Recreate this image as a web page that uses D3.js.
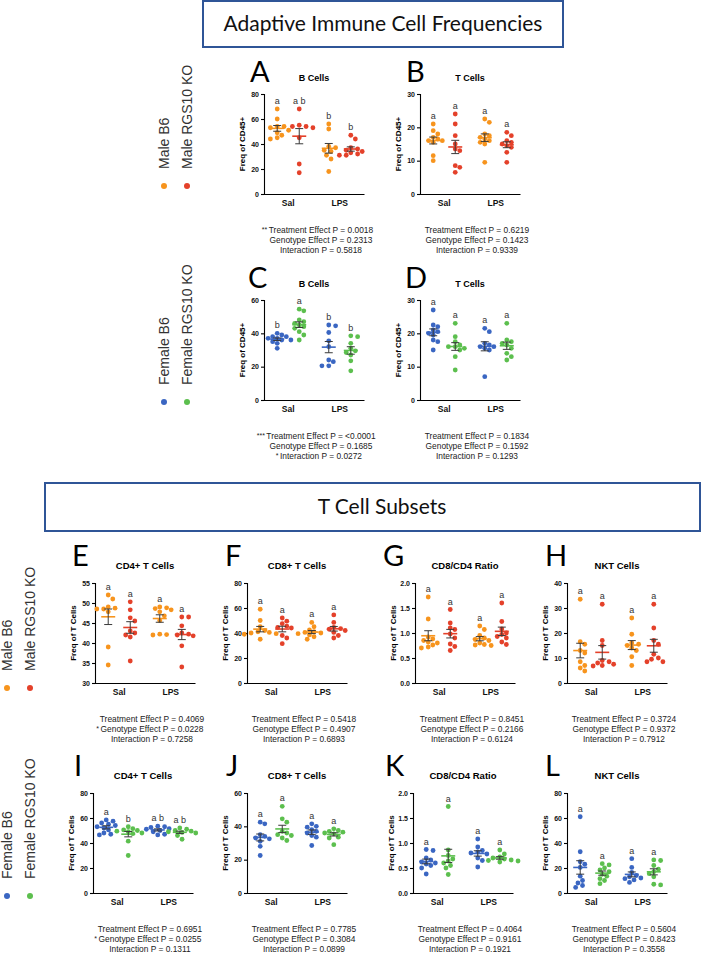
<!DOCTYPE html>
<html>
<head>
<meta charset="utf-8">
<script src="https://cdn.jsdelivr.net/npm/d3@7"></script>
<style>
  body { margin: 0; background: #fff; }
  svg { display: block; }
</style>
</head>
<body>
<svg id="fig" width="702" height="954"></svg>
<script>
// groups within every panel, in drawing order: Sal-B6, Sal-KO, LPS-B6, LPS-KO
const treatments = ["Sal", "LPS"];
const genotypes = ["B6", "KO"];
const maleColors = ["#F7941D", "#E4412A"];
const femaleColors = ["#3A66C2", "#5CBF4E"];
const maleLegend = ["Male B6", "Male RGS10 KO"];
const femaleLegend = ["Female B6", "Female RGS10 KO"];

// ---- values ----
const bCellsMale = [
  [68, 60, 54, 54, 53, 51, 49, 47, 45, 44],
  [68, 55, 54, 54, 53, 45, 24, 17],
  [56, 52, 38, 37, 35, 34, 31, 28, 18],
  [47, 44, 37, 36, 35, 34, 33, 32, 31, 31]
];
const tCellsMale = [
  [21, 19, 18, 17, 16.5, 16, 16, 15.5, 11.5, 10],
  [24, 21, 17.5, 15, 13.5, 13, 8.5, 8, 6.5],
  [22.5, 21.5, 18, 17.5, 17, 16.5, 16, 15.5, 15, 9.5],
  [18.5, 17.5, 16, 15.5, 15, 14.5, 14, 12.5, 9.5]
];
const bCellsFemale = [
  [40, 39, 38, 38, 37, 37, 36, 36, 35, 34, 31],
  [54.5, 53.5, 48, 47, 46, 45, 44, 43, 41, 39, 36],
  [45, 44.5, 40.5, 35.5, 32, 24, 23, 20.5, 20.5],
  [38.5, 38, 34, 31, 29.5, 28.5, 27, 23.5, 17.5]
];
const tCellsFemale = [
  [27, 22.5, 22, 21, 20.5, 20, 19.5, 18, 17.5, 15],
  [23, 19, 17.5, 16.5, 16, 16, 15.5, 15, 13, 9],
  [21.5, 20.5, 17, 16.5, 16, 16, 15.5, 15, 7],
  [23, 18, 17.5, 17, 16.5, 15.5, 14, 13, 12]
];
const cd4Male = [
  [52, 51, 49, 48.7, 48.5, 48.5, 47.8, 39, 34.5],
  [50.3, 48.3, 46.3, 45.5, 43, 42.5, 42, 41.5, 35.5],
  [49, 48.8, 48.6, 48.3, 47.8, 46.8, 45.6, 42.2, 42.1, 42],
  [46.5, 46.5, 44.3, 42.5, 42.2, 42, 41.8, 39.3, 34]
];
const cd8Male = [
  [59, 50, 45, 42, 41, 40.5, 40, 39.5, 39, 35],
  [52, 49.5, 47.5, 45.5, 44.5, 44, 38, 36, 31.5],
  [48.5, 45, 42.5, 41, 40.5, 40, 39.5, 38.5, 37, 35],
  [54.5, 48.5, 44.5, 43.5, 43, 42, 40.5, 38, 36]
];
const ratioMale = [
  [1.72, 1.28, 0.92, 0.88, 0.85, 0.82, 0.8, 0.76, 0.72, 0.7],
  [1.47, 1.2, 1.1, 1.07, 0.98, 0.9, 0.78, 0.73, 0.65],
  [1.14, 1.07, 0.95, 0.9, 0.87, 0.85, 0.8, 0.77, 0.76, 0.75],
  [1.6, 1.23, 1.08, 1.0, 0.97, 0.93, 0.9, 0.82, 0.77]
];
const nktMale = [
  [33.5, 16.5, 15.5, 13, 12, 8.5, 7, 6, 4.8],
  [31.5, 17, 15, 9, 8.5, 8, 7.5, 7, 6.8],
  [26, 19.5, 16, 15.5, 15, 14, 13, 10.5, 7],
  [31.5, 22, 17, 15.5, 11.5, 10, 9.5, 8.5, 8.5]
];
const cd4Female = [
  [58.5, 57.5, 56, 55, 54, 53, 52, 50.5, 48, 47, 46.5],
  [53, 51.5, 50.5, 50, 49.5, 49, 48, 47.5, 41.5, 30],
  [53.5, 53, 52.5, 51.5, 51, 50, 49, 47, 46.5],
  [52, 51, 50, 49.5, 49, 48.5, 48, 46, 43]
];
const cd8Female = [
  [42.5, 41.5, 35, 34, 33, 32.5, 31, 28, 22.5],
  [52, 44.5, 42.5, 37, 36, 35, 34.5, 33, 31.5],
  [41.5, 40, 39.5, 38, 37, 36, 34.5, 33.5, 28.5],
  [38.5, 37.5, 37, 36.5, 36, 35.5, 33.5, 33, 29]
];
const ratioFemale = [
  [0.87, 0.85, 0.7, 0.66, 0.62, 0.6, 0.58, 0.55, 0.5, 0.38],
  [1.73, 0.86, 0.75, 0.68, 0.64, 0.6, 0.55, 0.5, 0.37],
  [1.08, 0.92, 0.85, 0.82, 0.8, 0.78, 0.7, 0.65, 0.52],
  [0.86, 0.78, 0.72, 0.7, 0.68, 0.66, 0.65, 0.64, 0.62]
];
const nktFemale = [
  [61, 33, 25, 23, 20.5, 13.5, 10, 8, 6, 4.5],
  [23.5, 22.5, 20, 18.5, 17, 15, 13.5, 11.5, 10, 7.5],
  [27.5, 20.5, 16.5, 14, 13, 12, 11.5, 10.5, 8.5],
  [26.5, 26, 22, 19, 17, 15.5, 13, 7, 6.5]
];

// significance letters above each group
const lettersA = ["a", "a b", "b", "b"];
const lettersC = ["b", "a", "b", "b"];
const lettersI = ["a", "b", "a b", "a b"];
const lettersAllA = ["a", "a", "a", "a"];

// y tick values
const ticks0to80 = [0, 20, 40, 60, 80];
const ticks0to60 = [0, 20, 40, 60];
const ticks0to30 = [0, 10, 20, 30];
const ticks0to40 = [0, 10, 20, 30, 40];
const ticks30to55 = [30, 35, 40, 45, 50, 55];
const ticksRatio = [0, 0.5, 1.0, 1.5, 2.0];

// two-way ANOVA results under each panel: [stars, text]
const statsA = [["**", "Treatment Effect P = 0.0018"], ["", "Genotype Effect P = 0.2313"], ["", "Interaction P = 0.5818"]];
const statsB = [["", "Treatment Effect P = 0.6219"], ["", "Genotype Effect P = 0.1423"], ["", "Interaction P = 0.9339"]];
const statsC = [["***", "Treatment Effect P = <0.0001"], ["", "Genotype Effect P = 0.1685"], ["*", "Interaction P = 0.0272"]];
const statsD = [["", "Treatment Effect P = 0.1834"], ["", "Genotype Effect P = 0.1592"], ["", "Interaction P = 0.1293"]];
const statsE = [["", "Treatment Effect P = 0.4069"], ["*", "Genotype Effect P = 0.0228"], ["", "Interaction P = 0.7258"]];
const statsF = [["", "Treatment Effect P = 0.5418"], ["", "Genotype Effect P = 0.4907"], ["", "Interaction P = 0.6893"]];
const statsG = [["", "Treatment Effect P = 0.8451"], ["", "Genotype Effect P = 0.2166"], ["", "Interaction P = 0.6124"]];
const statsH = [["", "Treatment Effect P = 0.3724"], ["", "Genotype Effect P = 0.9372"], ["", "Interaction P = 0.7912"]];
const statsI = [["", "Treatment Effect P = 0.6951"], ["*", "Genotype Effect P = 0.0255"], ["", "Interaction P = 0.1311"]];
const statsJ = [["", "Treatment Effect P = 0.7785"], ["", "Genotype Effect P = 0.3084"], ["", "Interaction P = 0.0899"]];
const statsK = [["", "Treatment Effect P = 0.4064"], ["", "Genotype Effect P = 0.9161"], ["", "Interaction P = 0.1921"]];
const statsL = [["", "Treatment Effect P = 0.5604"], ["", "Genotype Effect P = 0.8423"], ["", "Interaction P = 0.3558"]];

// ---- layout ----
const W = 100, H = 100;
const fmtInt = d3.format("d"), fmtDec = d3.format(".1f");

const panels = [
  { id: "A", title: "B Cells", ylab: "Freq of CD45+", data: bCellsMale, ticks: ticks0to80, letters: lettersA, stats: statsA, colors: maleColors, x: 264, y: 94, lx: 250, small: true },
  { id: "B", title: "T Cells", ylab: "Freq of CD45+", data: tCellsMale, ticks: ticks0to30, letters: lettersAllA, stats: statsB, colors: maleColors, x: 420, y: 94, lx: 406, small: true },
  { id: "C", title: "B Cells", ylab: "Freq of CD45+", data: bCellsFemale, ticks: ticks0to60, letters: lettersC, stats: statsC, colors: femaleColors, x: 264, y: 300, lx: 248, small: true },
  { id: "D", title: "T Cells", ylab: "Freq of CD45+", data: tCellsFemale, ticks: ticks0to30, letters: lettersAllA, stats: statsD, colors: femaleColors, x: 420, y: 300, lx: 405, small: true },
  { id: "E", title: "CD4+ T Cells", ylab: "Freq of T Cells", data: cd4Male, ticks: ticks30to55, letters: lettersAllA, stats: statsE, colors: maleColors, x: 95, y: 583, lx: 72 },
  { id: "F", title: "CD8+ T Cells", ylab: "Freq of T Cells", data: cd8Male, ticks: ticks0to80, letters: lettersAllA, stats: statsF, colors: maleColors, x: 247, y: 583, lx: 225 },
  { id: "G", title: "CD8/CD4 Ratio", ylab: "Freq of T Cells", data: ratioMale, ticks: ticksRatio, letters: lettersAllA, stats: statsG, colors: maleColors, x: 415, y: 583, lx: 383, dec: true },
  { id: "H", title: "NKT Cells", ylab: "Freq of T Cells", data: nktMale, ticks: ticks0to40, letters: lettersAllA, stats: statsH, colors: maleColors, x: 567, y: 583, lx: 545 },
  { id: "I", title: "CD4+ T Cells", ylab: "Freq of T Cells", data: cd4Female, ticks: ticks0to80, letters: lettersI, stats: statsI, colors: femaleColors, x: 93, y: 793, lx: 74 },
  { id: "J", title: "CD8+ T Cells", ylab: "Freq of T Cells", data: cd8Female, ticks: ticks0to60, letters: lettersAllA, stats: statsJ, colors: femaleColors, x: 247, y: 793, lx: 226 },
  { id: "K", title: "CD8/CD4 Ratio", ylab: "Freq of T Cells", data: ratioFemale, ticks: ticksRatio, letters: lettersAllA, stats: statsK, colors: femaleColors, x: 413, y: 793, lx: 385, dec: true },
  { id: "L", title: "NKT Cells", ylab: "Freq of T Cells", data: nktFemale, ticks: ticks0to80, letters: lettersAllA, stats: statsL, colors: femaleColors, x: 567, y: 793, lx: 545 }
];

const legends = [
  { labels: maleLegend, colors: maleColors, x: 164, dy: 186 },
  { labels: femaleLegend, colors: femaleColors, x: 164, dy: 402 },
  { labels: maleLegend, colors: maleColors, x: 7, dy: 688 },
  { labels: femaleLegend, colors: femaleColors, x: 7, dy: 896 }
];

const svg = d3.select("#fig");
const sans = "'Liberation Sans', Arial, sans-serif";
const heading = "Lato, 'Open Sans', sans-serif";

// section header boxes
function headerBox(x, y, w, h, label, tx, ty) {
  svg.append("rect")
    .attr("x", x).attr("y", y).attr("width", w).attr("height", h)
    .attr("fill", "none").attr("stroke", "#2F5597").attr("stroke-width", 2);
  svg.append("text")
    .attr("x", tx).attr("y", ty)
    .attr("text-anchor", "middle")
    .style("font-family", heading).style("font-size", "21px").style("fill", "#111")
    .text(label);
}
headerBox(203, 1, 360, 46, "Adaptive Immune Cell Frequencies", 383, 31);
headerBox(45, 483, 655, 48, "T Cell Subsets", 382, 514);

// legends: vertical labels with a dot underneath
legends.forEach(lg => {
  lg.labels.forEach((lab, i) => {
    const cx = lg.x + i * 23;
    svg.append("text")
      .attr("transform", `translate(${cx + 5},${lg.dy - 17}) rotate(-90)`)
      .style("font-family", sans).style("font-size", "14px").style("fill", "#333")
      .text(lab);
    svg.append("circle")
      .attr("cx", cx).attr("cy", lg.dy).attr("r", 3)
      .attr("fill", lg.colors[i]);
  });
});

// horizontal spread of points so they don't overlap
function dodge(vals, y, r) {
  const placed = [];
  const out = new Array(vals.length);
  d3.range(vals.length)
    .sort((i, j) => d3.descending(vals[i], vals[j]))
    .forEach(i => {
      const py = y(vals[i]);
      for (let k = 0; k < 40; k++) {
        const dx = (k % 2 ? 1 : -1) * Math.ceil(k / 2) * r * 0.95;
        if (placed.every(p => Math.hypot(p[0] - dx, p[1] - py) >= 2 * r)) {
          placed.push([dx, py]);
          out[i] = dx;
          break;
        }
      }
    });
  return out;
}

panels.forEach(p => {
  const g = svg.append("g").attr("transform", `translate(${p.x},${p.y})`);

  const y = d3.scaleLinear().domain(d3.extent(p.ticks)).range([H, 0]);
  const xT = d3.scaleBand().domain(treatments).range([0, W]).paddingInner(0.06);
  const xG = d3.scalePoint().domain(genotypes).range([0, xT.bandwidth()]).padding(0.6);

  // axes
  const yAxis = g.append("g")
    .call(d3.axisLeft(y).tickValues(p.ticks).tickSize(3).tickPadding(2)
      .tickFormat(p.dec ? fmtDec : fmtInt));
  yAxis.select(".domain").attr("stroke", "#000").attr("stroke-width", 1.1);
  yAxis.selectAll(".tick line").attr("stroke", "#000").attr("stroke-width", 1.1);
  yAxis.selectAll("text")
    .style("font-family", sans).style("font-size", "7px").style("font-weight", "bold").attr("fill", "#111");

  const xAxis = g.append("g").attr("transform", `translate(0,${H})`)
    .call(d3.axisBottom(xT).tickSize(0).tickPadding(6));
  xAxis.select(".domain").attr("stroke", "#000").attr("stroke-width", 1.1);
  xAxis.selectAll("text")
    .style("font-family", sans).style("font-size", "8.5px").style("font-weight", "bold").attr("fill", "#111");

  // title, y label, panel letter
  g.append("text")
    .attr("x", W / 2).attr("y", p.small ? -13 : -14)
    .attr("text-anchor", "middle")
    .style("font-family", sans).style("font-size", p.small ? "9px" : "9.5px").style("font-weight", "bold")
    .text(p.title);
  g.append("text")
    .attr("transform", `translate(-19,${H / 2}) rotate(-90)`)
    .attr("text-anchor", "middle")
    .style("font-family", sans).style("font-size", "8px").style("font-weight", "bold")
    .text(p.ylab);
  svg.append("text")
    .attr("x", p.lx).attr("y", p.y - (p.small ? 12 : 17))
    .style("font-family", heading).style("font-size", "29px").style("fill", "#000")
    .text(p.id);

  // groups
  p.data.forEach((vals, gi) => {
    const t = treatments[Math.floor(gi / 2)];
    const gen = genotypes[gi % 2];
    const cx = xT(t) + xG(gen);
    const col = p.colors[gi % 2];
    const offs = dodge(vals, y, 2.4);

    g.append("g").selectAll("circle")
      .data(vals)
      .join("circle")
      .attr("cx", (d, i) => cx + offs[i])
      .attr("cy", d => y(d))
      .attr("r", 2.4)
      .attr("fill", col);

    const m = d3.mean(vals);
    const sem = d3.deviation(vals) / Math.sqrt(vals.length);
    g.append("line")
      .attr("x1", cx - 7).attr("x2", cx + 7)
      .attr("y1", y(m)).attr("y2", y(m))
      .attr("stroke", col).attr("stroke-width", 1.6);
    const eb = g.append("g").attr("stroke", "#3a3a3a").attr("stroke-width", 1);
    eb.append("line").attr("x1", cx).attr("x2", cx).attr("y1", y(m - sem)).attr("y2", y(m + sem));
    [m - sem, m + sem].forEach(v => {
      eb.append("line").attr("x1", cx - 4).attr("x2", cx + 4).attr("y1", y(v)).attr("y2", y(v));
    });

    g.append("text")
      .attr("x", cx).attr("y", y(d3.max(vals)) - 5)
      .attr("text-anchor", "middle")
      .style("font-family", sans).style("font-size", "9px").style("fill", "#333")
      .text(p.letters[gi]);
  });

  // ANOVA text
  p.stats.forEach(([star, line], li) => {
    const ty = H + 39 + li * 10;
    const tx = W / 2 + 7;
    const t = g.append("text")
      .attr("x", tx).attr("y", ty)
      .attr("text-anchor", "middle")
      .style("font-family", sans).style("font-size", "8.4px").style("fill", "#222")
      .text(line);
    if (star) {
      const bb = t.node().getBBox();
      g.append("text")
        .attr("x", bb.x - 1.5).attr("y", ty - 1.5)
        .attr("text-anchor", "end")
        .style("font-family", sans).style("font-size", "7px").style("fill", "#222")
        .text(star);
    }
  });
});
</script>
</body>
</html>
